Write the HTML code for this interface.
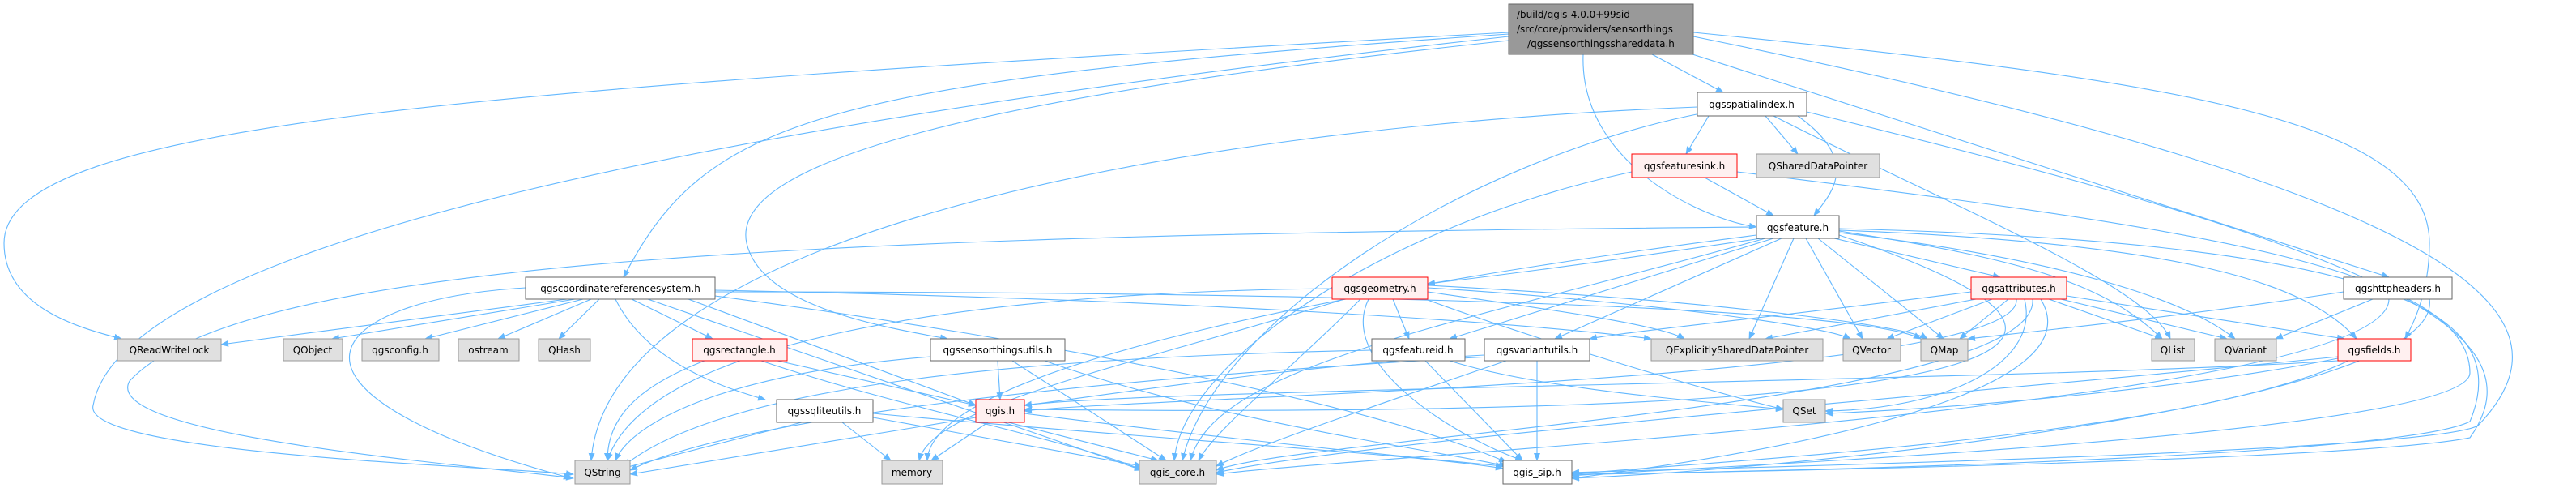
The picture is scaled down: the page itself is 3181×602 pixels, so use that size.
<!DOCTYPE html>
<html><head><meta charset="utf-8"><style>
html,body{margin:0;padding:0;background:#fff;width:3181px;height:602px;overflow:hidden}
svg text{font-family:"DejaVu Sans","Liberation Sans",sans-serif;font-size:12px;fill:#000}
.e{fill:none;stroke:#63b8ff;stroke-width:1.1}
.w{fill:#fff;stroke:#666}
.g{fill:#e0e0e0;stroke:#999}
.r{fill:#fff0f0;stroke:#f00}
</style></head><body>
<svg width="3181" height="602" viewBox="0 0 3181 602" xmlns="http://www.w3.org/2000/svg">
<defs><marker id="a" markerWidth="10" markerHeight="8" refX="9" refY="4" orient="auto" markerUnits="userSpaceOnUse"><path d="M0,0 L10,4 L0,8 z" fill="#63b8ff"/></marker></defs>
<g class="e" marker-end="url(#a)">
<!-- main -->
<path d="M1863 40 C600 110, 5 150, 5 300 C5 380, 100 405, 150 418"/>
<path d="M1863 45 C900 150, 150 300, 115 500 C100 560, 600 575, 708 585"/>
<path d="M1863 42 C1000 100, 870 150, 770 342"/>
<path d="M1863 50 C1200 120, 900 200, 922 300 C940 380, 1100 405, 1170 418"/>
<path d="M2040 67 L2128 114"/>
<path d="M1955 67 C1950 200, 2100 270, 2169 280"/>
<path d="M2090 67 L2950 342"/>
<path d="M2091 40 C2700 100, 3000 150, 3000 300 C3000 360, 2980 400, 2970 418"/>
<path d="M2091 45 C3100 250, 3180 400, 3060 525 C3000 560, 2000 580, 1941 583"/>
<!-- spatial -->
<path d="M2096 132 C1400 160, 750 300, 730 568"/>
<path d="M2100 140 C1800 200, 1500 400, 1460 568"/>
<path d="M2110 143 L2082 190"/>
<path d="M2180 143 L2220 190"/>
<path d="M2220 143 C2300 200, 2260 240, 2240 266"/>
<path d="M2190 143 C2400 250, 2650 350, 2680 418"/>
<path d="M2231 138 C2900 300, 3150 400, 3050 540 C2900 570, 2000 585, 1941 585"/>
<!-- sink -->
<path d="M2015 212 C1700 280, 1460 450, 1450 568"/>
<path d="M2105 219 L2190 266"/>
<path d="M2145 212 C2700 280, 3050 330, 3050 460 C3050 540, 2000 580, 1941 587"/>
<!-- feature -->
<path d="M2169 280 C1000 290, 300 320, 160 470 C120 540, 600 575, 708 590"/>
<path d="M2180 294 C1800 400, 1500 450, 1470 568"/>
<path d="M2169 290 C1700 350, 1150 450, 1145 568"/>
<path d="M2175 294 C2000 320, 1850 340, 1763 350"/>
<path d="M2190 294 L1790 418"/>
<path d="M2200 294 L1920 418"/>
<path d="M2215 294 L2160 418"/>
<path d="M2230 294 L2300 418"/>
<path d="M2245 294 L2400 418"/>
<path d="M2265 294 L2470 342"/>
<path d="M2271 285 C2500 320, 2600 350, 2670 418"/>
<path d="M2271 287 C2550 320, 2700 370, 2760 418"/>
<path d="M2271 284 C2700 300, 2850 350, 2910 418"/>
<path d="M2271 282 C3000 300, 3100 400, 3050 520 C2950 570, 2000 585, 1941 585"/>
<path d="M2271 290 C2600 400, 2700 520, 1265 505"/>
<!-- geometry -->
<path d="M1645 356 C1200 360, 800 420, 750 568"/>
<path d="M1660 369 C1400 450, 1150 500, 1135 568"/>
<path d="M1680 369 C1600 450, 1500 530, 1480 568"/>
<path d="M1720 369 L1740 418"/>
<path d="M1763 360 C1900 380, 2050 400, 2080 418"/>
<path d="M1763 355 C2000 370, 2250 400, 2285 418"/>
<path d="M1763 352 C2100 370, 2350 400, 2380 418"/>
<path d="M1760 369 C1900 420, 2100 480, 2202 505"/>
<path d="M1690 369 C1650 450, 1800 540, 1880 568"/>
<!-- attributes -->
<path d="M2434 360 C2200 390, 2000 410, 1963 418"/>
<path d="M2440 369 L2180 418"/>
<path d="M2460 369 L2330 418"/>
<path d="M2480 369 L2420 418"/>
<path d="M2530 369 L2670 418"/>
<path d="M2545 369 L2750 418"/>
<path d="M2552 365 L2895 418"/>
<path d="M2500 369 C2520 450, 2400 505, 2254 507"/>
<path d="M2510 369 C2520 500, 1600 540, 1502 580"/>
<path d="M2520 369 C2600 500, 2100 570, 1941 590"/>
<path d="M2490 369 C2500 470, 1400 490, 1265 507"/>
<!-- http -->
<path d="M2894 360 C2700 390, 2500 410, 2430 418"/>
<path d="M2930 369 L2810 418"/>
<path d="M2950 369 C2950 500, 1700 560, 1502 585"/>
<path d="M3000 369 C3020 500, 2200 580, 1941 590"/>
<!-- crs -->
<path d="M700 369 L273 425"/>
<path d="M710 369 L410 418"/>
<path d="M720 369 L525 418"/>
<path d="M730 369 L615 418"/>
<path d="M740 369 L690 418"/>
<path d="M780 369 L880 418"/>
<path d="M760 369 C800 450, 900 480, 945 493"/>
<path d="M850 369 L1205 500"/>
<path d="M649 355 C400 370, 300 480, 705 590"/>
<path d="M800 369 L1410 580"/>
<path d="M883 365 C1300 420, 1700 500, 1860 570"/>
<path d="M883 358 C1500 370, 1900 400, 2039 418"/>
<path d="M883 360 C1700 360, 2300 380, 2372 418"/>
<!-- rect -->
<path d="M870 445 C780 480, 750 520, 750 568"/>
<path d="M960 445 L1205 500"/>
<path d="M940 445 C1100 500, 1350 550, 1410 580"/>
<!-- stutils -->
<path d="M1149 440 C900 460, 780 520, 760 568"/>
<path d="M1232 445 L1235 493"/>
<path d="M1250 445 L1440 568"/>
<path d="M1290 445 C1500 520, 1800 560, 1860 575"/>
<!-- sqlite -->
<path d="M990 521 L760 580"/>
<path d="M1040 521 L1100 568"/>
<path d="M1078 515 L1410 575"/>
<path d="M1078 510 C1400 540, 1750 560, 1856 578"/>
<!-- qgis.h -->
<path d="M1205 515 L778 585"/>
<path d="M1220 521 L1150 568"/>
<path d="M1245 521 L1430 568"/>
<path d="M1265 510 C1500 540, 1750 565, 1856 575"/>
<!-- featureid -->
<path d="M1694 432 C1300 440, 900 470, 770 575"/>
<path d="M1790 445 C1900 480, 2100 495, 2202 505"/>
<path d="M1760 445 L1880 568"/>
<!-- varutils -->
<path d="M1840 440 C1300 470, 900 520, 778 580"/>
<path d="M1860 445 C1700 500, 1550 550, 1502 575"/>
<path d="M1898 445 L1898 568"/>
<path d="M1833 438 C1600 450, 1350 490, 1265 500"/>
<!-- fields -->
<path d="M2887 440 C2500 480, 1700 540, 1502 583"/>
<path d="M2900 445 C2700 540, 2100 570, 1941 585"/>
<path d="M2887 442 C2700 480, 2400 505, 2254 510"/>
<path d="M2887 445 C2500 470, 1400 480, 1265 500"/>
</g>
<!-- nodes -->
<rect x="1863" y="5" width="228" height="62" fill="#999" stroke="#666"/>
<text x="1873" y="22">/build/qgis-4.0.0+99sid</text>
<text x="1873" y="40">/src/core/providers/sensorthings</text>
<text x="1977" y="58" text-anchor="middle">/qgssensorthingsshareddata.h</text>
<g text-anchor="middle">
<rect class="w" x="2096" y="114" width="135" height="29"/><text x="2163" y="133">qgsspatialindex.h</text>
<rect class="r" x="2015" y="190" width="130" height="29"/><text x="2080" y="209">qgsfeaturesink.h</text>
<rect class="g" x="2169" y="190" width="152" height="29"/><text x="2245" y="209">QSharedDataPointer</text>
<rect class="w" x="2169" y="266" width="102" height="28"/><text x="2220" y="285">qgsfeature.h</text>
<rect class="w" x="649" y="342" width="234" height="27"/><text x="766" y="360">qgscoordinatereferencesystem.h</text>
<rect class="r" x="1645" y="342" width="118" height="27"/><text x="1704" y="360">qgsgeometry.h</text>
<rect class="r" x="2434" y="342" width="118" height="27"/><text x="2493" y="360">qgsattributes.h</text>
<rect class="w" x="2894" y="342" width="134" height="27"/><text x="2961" y="360">qgshttpheaders.h</text>
<rect class="g" x="145" y="418" width="128" height="27"/><text x="209" y="436">QReadWriteLock</text>
<rect class="g" x="350" y="418" width="73" height="27"/><text x="386" y="436">QObject</text>
<rect class="g" x="447" y="418" width="95" height="27"/><text x="494" y="436">qgsconfig.h</text>
<rect class="g" x="566" y="418" width="75" height="27"/><text x="603" y="436">ostream</text>
<rect class="g" x="665" y="418" width="64" height="27"/><text x="697" y="436">QHash</text>
<rect class="r" x="855" y="418" width="117" height="27"/><text x="913" y="436">qgsrectangle.h</text>
<rect class="w" x="1149" y="418" width="166" height="27"/><text x="1232" y="436">qgssensorthingsutils.h</text>
<rect class="w" x="1694" y="418" width="115" height="27"/><text x="1751" y="436">qgsfeatureid.h</text>
<rect class="w" x="1833" y="418" width="130" height="27"/><text x="1898" y="436">qgsvariantutils.h</text>
<rect class="g" x="2039" y="418" width="212" height="27"/><text x="2145" y="436">QExplicitlySharedDataPointer</text>
<rect class="g" x="2276" y="418" width="71" height="27"/><text x="2311" y="436">QVector</text>
<rect class="g" x="2372" y="418" width="58" height="27"/><text x="2401" y="436">QMap</text>
<rect class="g" x="2657" y="418" width="53" height="27"/><text x="2683" y="436">QList</text>
<rect class="g" x="2735" y="418" width="76" height="27"/><text x="2773" y="436">QVariant</text>
<rect class="r" x="2887" y="418" width="90" height="27"/><text x="2932" y="436">qgsfields.h</text>
<rect class="w" x="959" y="493" width="119" height="28"/><text x="1018" y="511">qgssqliteutils.h</text>
<rect class="r" x="1205" y="493" width="60" height="28"/><text x="1235" y="511">qgis.h</text>
<rect class="g" x="2202" y="493" width="52" height="28"/><text x="2228" y="511">QSet</text>
<rect class="g" x="710" y="568" width="68" height="29"/><text x="744" y="587">QString</text>
<rect class="g" x="1089" y="568" width="75" height="29"/><text x="1126" y="587">memory</text>
<rect class="g" x="1407" y="568" width="95" height="29"/><text x="1454" y="587">qgis_core.h</text>
<rect class="w" x="1856" y="568" width="85" height="29"/><text x="1898" y="587">qgis_sip.h</text>
</g>
</svg>
</body></html>
